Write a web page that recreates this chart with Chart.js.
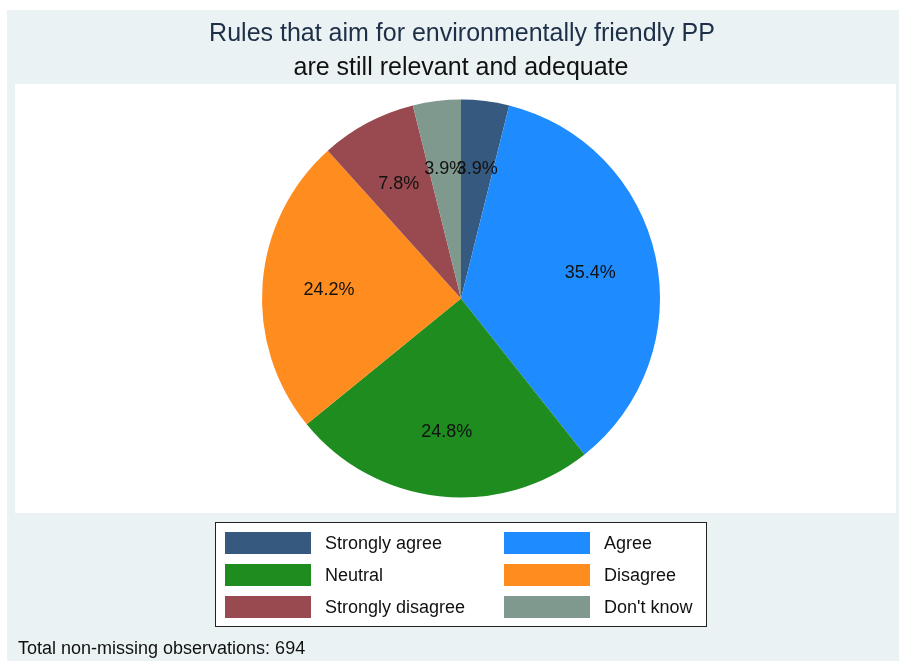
<!DOCTYPE html>
<html>
<head>
<meta charset="utf-8">
<script src="https://cdn.jsdelivr.net/npm/chart.js@4/dist/chart.umd.min.js"></script>
<style>
  html, body { margin: 0; padding: 0; background: #ffffff; }
  #wrap { width: 899px; height: 663px; }
</style>
</head>
<body>
<div id="wrap"><canvas id="pie"></canvas></div>
<script>
// answers, clockwise from 12 o'clock
var categories = ['Strongly agree', 'Agree', 'Neutral', 'Disagree', 'Strongly disagree', "Don't know"];
var counts = [27, 246, 172, 168, 54, 27];
var colors = ['#36597f', '#1e8cff', '#1e8c1e', '#ff8c1e', '#994a50', '#80998f'];
var titleLines = ['Rules that aim for environmentally friendly PP', 'are still relevant and adequate'];
var note = 'Total non-missing observations: 694';

var FONT = '"Liberation Sans", Arial, sans-serif';

// background, plot region, titles, note, legend
var frame = {
    id: 'frame',
    beforeDraw: function(chart){
        var c = chart.ctx;
        c.save();
        c.fillStyle = '#eaf2f3';
        c.fillRect(7, 10, 892, 651);
        c.fillStyle = '#ffffff';
        c.fillRect(15, 84, 881, 429);

        c.textAlign = 'center';
        c.textBaseline = 'middle';
        c.font = '25px ' + FONT;
        c.fillStyle = '#1e2f48';
        c.fillText(titleLines[0], 462, 34);
        c.fillStyle = '#111111';
        c.fillText(titleLines[1], 461, 68);

        c.textAlign = 'left';
        c.font = '18px ' + FONT;
        c.fillStyle = '#111111';
        c.fillText(note, 18, 649);

        // legend
        c.fillStyle = '#ffffff';
        c.fillRect(215, 522, 492, 105);
        c.strokeStyle = '#222222';
        c.lineWidth = 1;
        c.strokeRect(215.5, 522.5, 491, 104);
        var labels = chart.data.labels;
        var bg = chart.data.datasets[0].backgroundColor;
        c.font = '18px ' + FONT;
        for (var i = 0; i < labels.length; i++) {
            var col = i % 2, row = Math.floor(i / 2);
            var kx = col == 0 ? 225 : 504;
            var ky = 532 + row * 32;
            c.fillStyle = bg[i];
            c.fillRect(kx, ky, 86, 22);
            c.fillStyle = '#111111';
            c.fillText(labels[i], kx + 100, ky + 12);
        }
        c.restore();
    }
};

// percent labels inside the slices
var sliceLabels = {
    id: 'sliceLabels',
    afterDatasetsDraw: function(chart){
        var c = chart.ctx;
        var meta = chart.getDatasetMeta(0);
        var data = chart.data.datasets[0].data;
        var total = data.reduce(function(a, b){ return a + b; }, 0);
        c.save();
        c.font = '18px ' + FONT;
        c.fillStyle = '#111111';
        c.textAlign = 'center';
        c.textBaseline = 'middle';
        meta.data.forEach(function(arc, i){
            var p = arc.getProps(['x', 'y', 'startAngle', 'endAngle', 'outerRadius'], true);
            var mid = (p.startAngle + p.endAngle) / 2;
            var r = p.outerRadius * 0.665;
            var pct = (data[i] / total * 100).toFixed(1) + '%';
            c.fillText(pct, p.x + Math.cos(mid) * r, p.y + Math.sin(mid) * r + 2);
        });
        c.restore();
    }
};

var ctx = document.getElementById('pie');
var pieChart = new Chart(ctx, {
    type: 'pie',
    data: {
        labels: categories,
        datasets: [{
            data: counts,
            backgroundColor: colors,
            borderWidth: 0
        }]
    },
    options: {
        responsive: true,
        maintainAspectRatio: false,
        animation: false,
        layout: { padding: { left: 262, right: 239, top: 99, bottom: 165 } },
        plugins: {
            legend: { display: false },
            title: { display: false },
            tooltip: { enabled: false }
        }
    },
    plugins: [frame, sliceLabels]
});
</script>
</body>
</html>
